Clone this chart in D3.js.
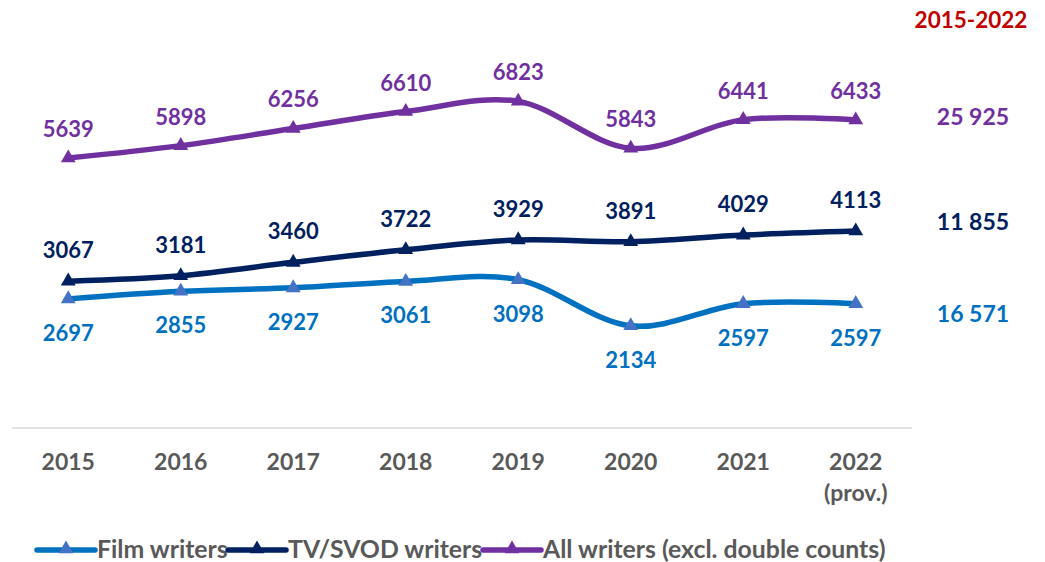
<!DOCTYPE html>
<html>
<head>
<meta charset="utf-8">
<script src="https://cdn.jsdelivr.net/npm/d3@7"></script>
<style>
	body { margin: 0; background: #fff; }
	svg text { font-family: Lato, "Open Sans", sans-serif; font-weight: bold; }
</style>
</head>
<body>
<div id="chart"></div>
<script>
var years = ['2015', '2016', '2017', '2018', '2019', '2020', '2021', '2022'];
var yearSub = ['', '', '', '', '', '', '', '(prov.)'];
var filmWriters = [2697, 2855, 2927, 3061, 3098, 2134, 2597, 2597];
var tvWriters = [3067, 3181, 3460, 3722, 3929, 3891, 4029, 4113];
var allWriters = [5639, 5898, 6256, 6610, 6823, 5843, 6441, 6433];
var seriesNames = ['Film writers', 'TV/SVOD writers', 'All writers (excl. double counts)'];
var totals = ['16 571', '11 855', '25 925'];
var totalsTitle = '2015-2022';

var width = 1045, height = 562;

var svg = d3.select('#chart').append('svg')
	.attr('width', width)
	.attr('height', height);

var x = d3.scaleBand()
	.domain(years)
	.range([12, 912]);

var y = d3.scaleLinear()
	.domain([0, 8000])
	.range([428, 45]);

var series = [
	{name: seriesNames[0], values: filmWriters, line: '#0070c0', marker: '#4472c4', label: '#0070c0', dy: 42, total: totals[0], totalDy: 18},
	{name: seriesNames[1], values: tvWriters, line: '#002060', marker: '#002060', label: '#002060', dy: -23, total: totals[1], totalDy: -1},
	{name: seriesNames[2], values: allWriters, line: '#7030a0', marker: '#7030a0', label: '#7030a0', dy: -21, total: totals[2], totalDy: 5}
];

var cx = function(i) { return x(years[i]) + x.bandwidth() / 2; };

var line = d3.line()
	.x(function(d, i) { return cx(i); })
	.y(function(d) { return y(d); })
	.curve(d3.curveCardinal.tension(0));

var tri = d3.symbol().type(d3.symbolTriangle).size(95);

// x axis
svg.append('line')
	.attr('x1', 12).attr('x2', 912)
	.attr('y1', 428).attr('y2', 428)
	.attr('stroke', '#d9d9d9')
	.attr('stroke-width', 1.5);

svg.append('g').selectAll('text')
	.data(years)
	.enter().append('text')
	.attr('x', function(d) { return x(d) + x.bandwidth() / 2; })
	.attr('y', 470)
	.attr('text-anchor', 'middle')
	.attr('fill', '#595959')
	.style('font-size', '23px')
	.text(function(d) { return d; });

svg.append('g').selectAll('text')
	.data(yearSub)
	.enter().append('text')
	.attr('x', function(d, i) { return cx(i); })
	.attr('y', 501)
	.attr('text-anchor', 'middle')
	.attr('fill', '#595959')
	.style('font-size', '23px')
	.text(function(d) { return d; });

// lines, markers and labels
series.forEach(function(s) {
	var g = svg.append('g');

	g.append('path')
		.attr('d', line(s.values))
		.attr('fill', 'none')
		.attr('stroke', s.line)
		.attr('stroke-width', 5.5)
		.attr('stroke-linecap', 'round');

	g.selectAll('.marker')
		.data(s.values)
		.enter().append('path')
		.attr('class', 'marker')
		.attr('d', tri)
		.attr('transform', function(d, i) { return 'translate(' + cx(i) + ',' + y(d) + ')'; })
		.attr('fill', s.marker);

	g.selectAll('.lbl')
		.data(s.values)
		.enter().append('text')
		.attr('class', 'lbl')
		.attr('x', function(d, i) { return cx(i); })
		.attr('y', function(d) { return y(d) + s.dy; })
		.attr('text-anchor', 'middle')
		.attr('fill', s.label)
		.style('font-size', '22px')
		.text(function(d) { return d; });

	var last = s.values[s.values.length - 1];
	g.append('text')
		.attr('x', 973)
		.attr('y', y(last) + s.totalDy)
		.attr('text-anchor', 'middle')
		.attr('fill', s.label)
		.style('font-size', '23px')
		.text(s.total);
});

svg.append('text')
	.attr('x', 971)
	.attr('y', 28)
	.attr('text-anchor', 'middle')
	.attr('fill', '#c00000')
	.style('font-size', '22.5px')
	.text(totalsTitle);

// legend
var legendX = [37, 228, 483];
var legend = svg.append('g').selectAll('g')
	.data(series)
	.enter().append('g')
	.attr('transform', function(d, i) { return 'translate(' + legendX[i] + ',550)'; });

legend.append('line')
	.attr('x1', 0).attr('x2', 58)
	.attr('y1', 0).attr('y2', 0)
	.attr('stroke', function(d) { return d.line; })
	.attr('stroke-width', 5.5)
	.attr('stroke-linecap', 'round');

legend.append('path')
	.attr('d', tri)
	.attr('transform', 'translate(29,-1)')
	.attr('fill', function(d) { return d.marker; });

legend.append('text')
	.attr('x', 60)
	.attr('y', 8)
	.attr('fill', '#595959')
	.style('font-size', '24.8px')
	.text(function(d) { return d.name; });
</script>
</body>
</html>
